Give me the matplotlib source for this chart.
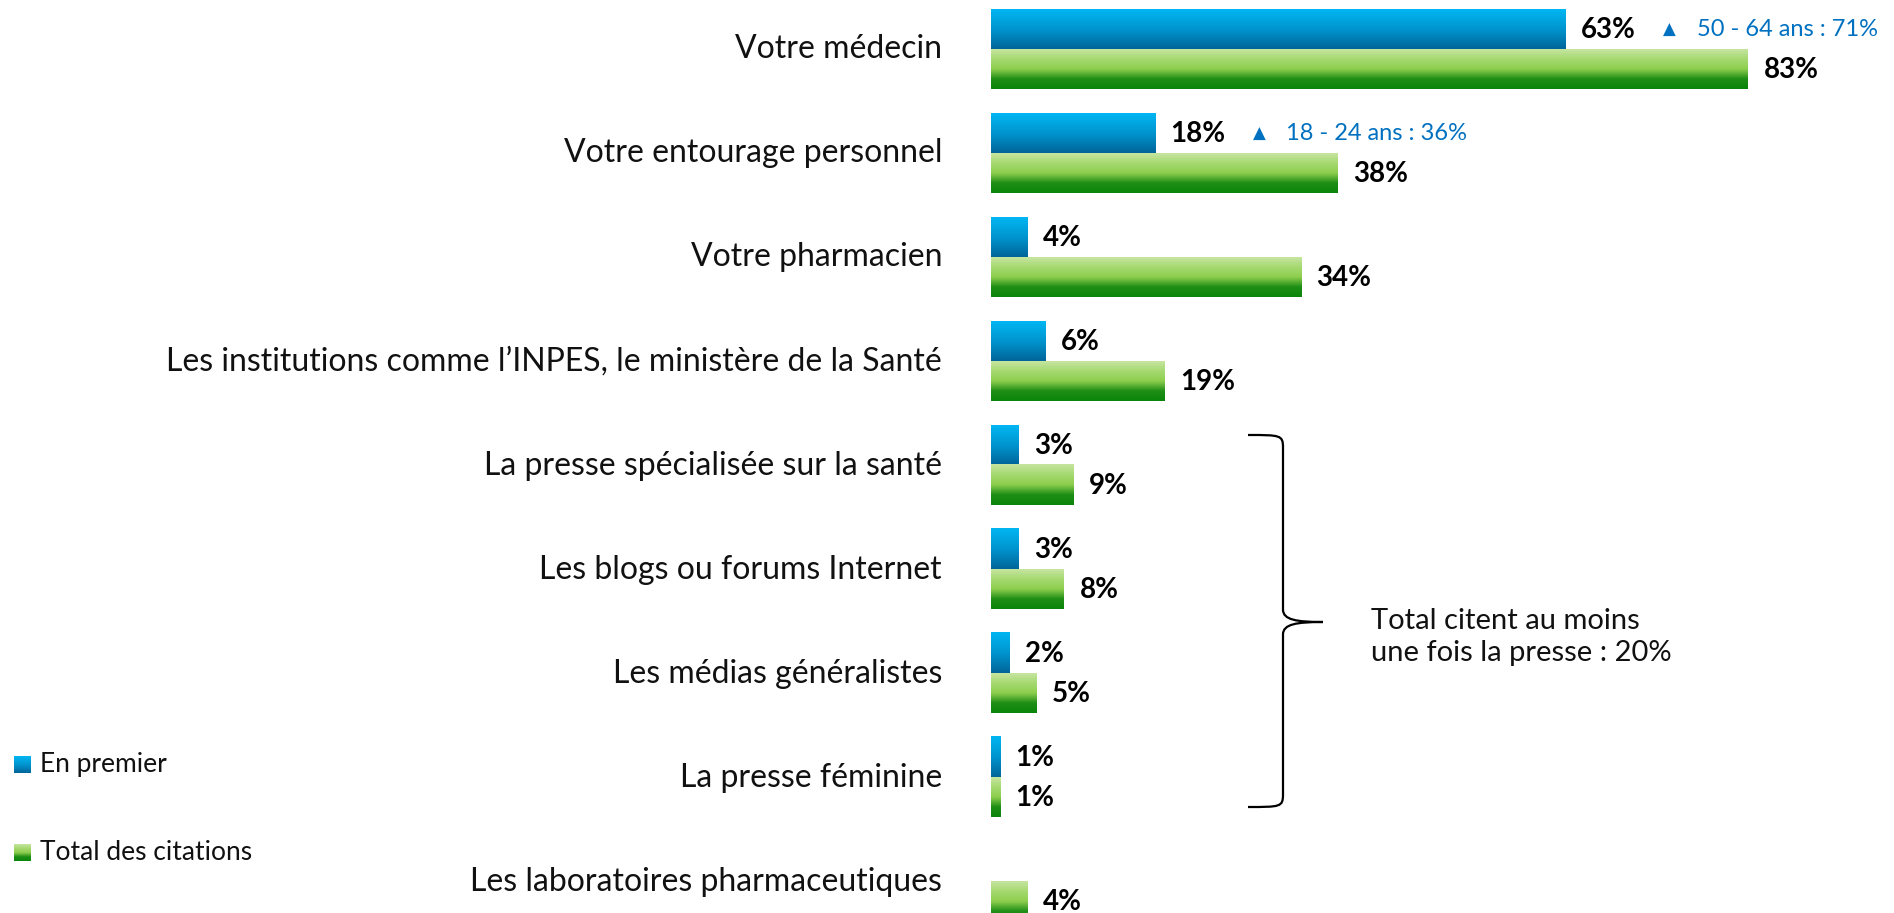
import numpy as np
import matplotlib.pyplot as plt
from matplotlib.colors import LinearSegmentedColormap
from matplotlib.path import Path
from matplotlib.patches import PathPatch

categories = [
    "Votre médecin",
    "Votre entourage personnel",
    "Votre pharmacien",
    "Les institutions comme l\u2019INPES, le ministère de la Santé",
    "La presse spécialisée sur la santé",
    "Les blogs ou forums Internet",
    "Les médias généralistes",
    "La presse féminine",
    "Les laboratoires pharmaceutiques",
]
en_premier = [63, 18, 4, 6, 3, 3, 2, 1, None]
total_citations = [83, 38, 34, 19, 9, 8, 5, 1, 4]
highlights = {0: "50 - 64 ans : 71%", 1: "18 - 24 ans : 36%"}
brace_text = "Total citent au moins\nune fois la presse : 20%"

plt.rcParams["font.family"] = ["Lato", "DejaVu Sans"]

W, H = 1894, 913
fig = plt.figure(figsize=(W / 100, H / 100), dpi=100)
ax = fig.add_axes([0, 0, 1, 1])

# pixel layout: x=0 at 991 px, 9.12 px per %, rows every 104 px from 49.5
X0, SX = 991, 9.12
Y0, SY = 49.5, 104


def px2x(px):
    return (px - X0) / SX


def px2y(py):
    return (py - Y0) / SY


blue_cmap = LinearSegmentedColormap.from_list("b", ["#00B6F2", "#0095CF", "#00659A"])
green_cmap = LinearSegmentedColormap.from_list("g", ["#C6E5A0", "#A5D970", "#8ECE4E", "#1E8E16", "#0A850A"])
grad = np.linspace(0, 1, 64).reshape(-1, 1)

bh = 40 / SY


def grad_bar(x0, x1, y_top, y_bot, cmap):
    ax.imshow(grad, cmap=cmap, aspect="auto", extent=(x0, x1, y_bot, y_top),
              interpolation="bicubic", zorder=2)


y = np.arange(len(categories))
for i, cat in enumerate(categories):
    ax.text(px2x(942), y[i], cat, ha="right", va="center", fontsize=23, color="#111111")
    v1 = en_premier[i]
    v2 = total_citations[i]
    if v1 is not None:
        grad_bar(0, v1, y[i] - bh, y[i], blue_cmap)
        ax.text(v1 + 1.7, y[i] - bh / 2, f"{v1}%", ha="left", va="center",
                fontsize=20, fontweight="bold", color="black")
        if i in highlights:
            ax.text(v1 + 11.4, y[i] - bh / 2, "\u25B2", ha="center", va="center",
                    fontsize=12, color="#0070C0", family="DejaVu Sans")
            ax.text(v1 + 14.4, y[i] - bh / 2, highlights[i], ha="left", va="center",
                    fontsize=17, color="#0070C0")
    grad_bar(0, v2, y[i], y[i] + bh, green_cmap)
    ax.text(v2 + 1.7, y[i] + bh / 2, f"{v2}%", ha="left", va="center",
            fontsize=20, fontweight="bold", color="black")

# brace around the press categories
bx0, bx1, btip = px2x(1248), px2x(1283), px2x(1323)
by0, bym, by1 = px2y(435), px2y(622), px2y(807)
r = 0.12
verts = [
    (bx0, by0), (bx1 - 0.3, by0), (bx1, by0), (bx1, by0 + r),
    (bx1, bym - r),
    (bx1, bym - 0.02), (bx1 + 1.5, bym), (btip, bym),
    (btip, bym),
    (bx1 + 1.5, bym), (bx1, bym + 0.02), (bx1, bym + r),
    (bx1, by1 - r),
    (bx1, by1), (bx1 - 0.3, by1), (bx0, by1),
]
codes = [
    Path.MOVETO, Path.CURVE4, Path.CURVE4, Path.CURVE4,
    Path.LINETO,
    Path.CURVE4, Path.CURVE4, Path.CURVE4,
    Path.MOVETO,
    Path.CURVE4, Path.CURVE4, Path.CURVE4,
    Path.LINETO,
    Path.CURVE4, Path.CURVE4, Path.CURVE4,
]
ax.add_patch(PathPatch(Path(verts, codes), fill=False, lw=1.6, color="black"))

ax.text(px2x(1371), px2y(637), brace_text, ha="left", va="center",
        fontsize=21, color="#111111", linespacing=1.25)

# legend
legend_items = [("En premier", blue_cmap, 756), ("Total des citations", green_cmap, 844)]
for label, cmap, top in legend_items:
    ax.imshow(grad, cmap=cmap, aspect="auto",
              extent=(px2x(14), px2x(31), px2y(top + 17), px2y(top)), zorder=2)
    ax.text(px2x(40), px2y(top + 8.5), label, ha="left", va="center",
            fontsize=19, color="#111111")

ax.set_xlim(px2x(0), px2x(W))
ax.set_ylim(px2y(H), px2y(0))
ax.axis("off")
fig.savefig("out.png", dpi=100)
